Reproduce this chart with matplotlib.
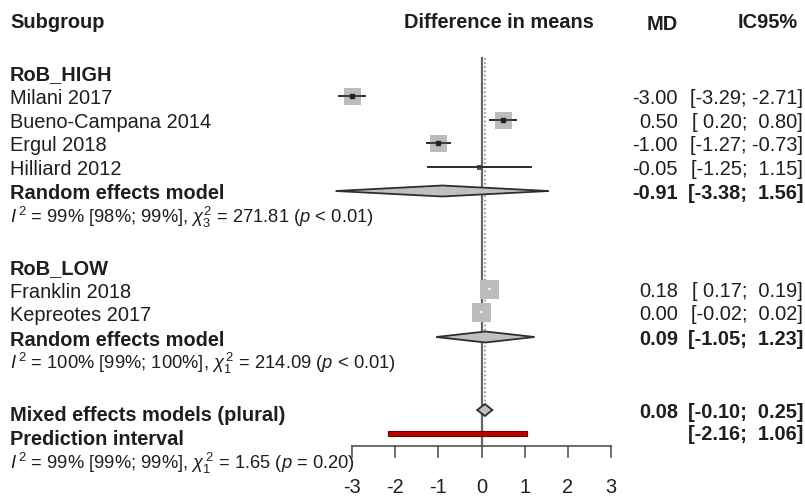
import matplotlib
matplotlib.use("Agg")

import matplotlib.pyplot as plt
from matplotlib.patches import Rectangle, Polygon

plt.rcParams["font.family"] = ["Liberation Sans", "DejaVu Sans"]
plt.rcParams["mathtext.fontset"] = "custom"
plt.rcParams["mathtext.rm"] = "Liberation Sans"
plt.rcParams["mathtext.it"] = "Liberation Sans:italic"
plt.rcParams["mathtext.bf"] = "Liberation Sans:bold"

# ---- data ----
high_studies = ["Milani 2017", "Bueno-Campana 2014", "Ergul 2018", "Hilliard 2012"]
high_md = [-3.00, 0.50, -1.00, -0.05]
high_lo = [-3.29, 0.20, -1.27, -1.25]
high_hi = [-2.71, 0.80, -0.73, 1.15]
high_pooled = (-0.91, -3.38, 1.56)
high_het = r"$I^{\,2}$ = 99% [98%; 99%], $\chi^2_3$ = 271.81 ($p$ < 0.01)"

low_studies = ["Franklin 2018", "Kepreotes 2017"]
low_md = [0.18, 0.00]
low_lo = [0.17, -0.02]
low_hi = [0.19, 0.02]
low_pooled = (0.09, -1.05, 1.23)
low_het = r"$I^{\,2}$ = 100% [99%; 100%], $\chi^{\,2}_1$ = 214.09 ($p$ < 0.01)"

overall = (0.08, -0.10, 0.25)
prediction = (-2.16, 1.06)
overall_het = r"$I^{\,2}$ = 99% [99%; 99%], $\chi^{\,2}_1$ = 1.65 ($p$ = 0.20)"

ticks = [-3, -2, -1, 0, 1, 2, 3]

# ---- layout (pixel rows) ----
high_rows = [96, 120, 143, 167]
high_box = [17, 17, 17, 5]
low_rows = [289, 312]
low_box = [19, 19]

W, H = 805, 498
px_m3, px_p3 = 352, 611
scale = (px_p3 - px_m3) / 6.0
dy = 2  # text baseline nudge


def px(p):
    return -3 + (p - px_m3) / scale


fig = plt.figure(figsize=(W / 100, H / 100), dpi=100)
ax = fig.add_axes([0, 0, 1, 1])
ax.set_xlim(px(0), px(W))
ax.set_ylim(H, 0)
ax.axis("off")

fs = 14.4
fs_het = 13.2
tc = "#1e1e1e"


def ci_text(lo, hi):
    a = "%.2f" % lo
    b = "%.2f" % hi
    a = a if lo < 0 else " " + a
    b = " " + b if hi < 0 else "  " + b
    return "[" + a + ";" + b + "]"


def label(x, y, s, bold=False, ha="left", size=fs):
    ax.text(x, y + dy, s, fontsize=size, color=tc, ha=ha, va="center",
            fontweight="bold" if bold else "normal")


def square(x, lo, hi, y, size):
    ax.plot([lo, hi], [y, y], color="#2a2a2a", lw=1.4, zorder=2)
    w = size / scale
    ax.add_patch(Rectangle((x - w / 2, y - size / 2), w, size,
                           facecolor="#bcbcbc" if size > 6 else "#555555",
                           edgecolor="none", zorder=3))
    inside = (x - lo) < w / 2
    ax.plot([max(lo, x - w / 2), min(hi, x + w / 2)], [y, y],
            color="white" if inside else "#2a2a2a", lw=1.2, zorder=4)
    if not inside and size > 6:
        ax.plot([x], [y], marker="s", ms=2.2, color="#222222", zorder=5)


def diamond(est, lo, hi, y, h, color="#c0c0c0"):
    ax.add_patch(Polygon([(lo, y), (est, y - h / 2), (hi, y), (est, y + h / 2)],
                         closed=True, facecolor=color, edgecolor="#2e2e2e",
                         lw=1.3, zorder=3))


# headers
label(px(10), 20, "Subgroup", bold=True)
label(px(499), 20, "Difference in means", bold=True, ha="center")
label(px(678), 22, "MD", bold=True, ha="right")
label(px(798), 20, "IC95%", bold=True, ha="right")

# reference lines
ax.plot([0, 0], [58, 446], color="#666666", lw=1.6, zorder=1)
ax.plot([overall[0], overall[0]], [58, 404], color="#8a8a8a", lw=1.2,
        ls=(0, (1, 1.5)), zorder=1)

x_md, x_ci = px(678), px(803)

# high risk group
label(px(10), 73, "RoB_HIGH", bold=True)
for name, m, lo, hi, y, s in zip(high_studies, high_md, high_lo, high_hi, high_rows, high_box):
    label(px(10), y, name)
    square(m, lo, hi, y, s)
    label(x_md, y, "%.2f" % m, ha="right")
    label(x_ci, y, ci_text(lo, hi), ha="right")
label(px(10), 191, "Random effects model", bold=True)
diamond(high_pooled[0], high_pooled[1], high_pooled[2], 191, 11)
label(x_md, 191, "%.2f" % high_pooled[0], bold=True, ha="right")
label(x_ci, 191, ci_text(high_pooled[1], high_pooled[2]), bold=True, ha="right")
label(px(10), 215, high_het, size=fs_het)

# low risk group
label(px(10), 267, "RoB_LOW", bold=True)
for name, m, lo, hi, y, s in zip(low_studies, low_md, low_lo, low_hi, low_rows, low_box):
    label(px(10), y + 1, name)
    square(m, lo, hi, y, s)
    label(x_md, y, "%.2f" % m, ha="right")
    label(x_ci, y, ci_text(lo, hi), ha="right")
label(px(10), 338, "Random effects model", bold=True)
diamond(low_pooled[0], low_pooled[1], low_pooled[2], 337, 11)
label(x_md, 337, "%.2f" % low_pooled[0], bold=True, ha="right")
label(x_ci, 337, ci_text(low_pooled[1], low_pooled[2]), bold=True, ha="right")
label(px(10), 361, low_het, size=fs_het)

# overall
label(px(10), 413, "Mixed effects models (plural)", bold=True)
diamond(overall[0], overall[1], overall[2], 410, 12)
label(x_md, 410, "%.2f" % overall[0], bold=True, ha="right")
label(x_ci, 410, ci_text(overall[1], overall[2]), bold=True, ha="right")

label(px(10), 437, "Prediction interval", bold=True)
ax.add_patch(Rectangle((prediction[0], 431), prediction[1] - prediction[0], 5,
                       facecolor="#c00000", edgecolor="#6b0000", lw=0.8, zorder=3))
label(x_ci, 432, ci_text(*prediction), bold=True, ha="right")
label(px(10), 461, overall_het, size=fs_het)

# x axis
ax.plot([ticks[0], ticks[-1]], [446, 446], color="#555555", lw=1.2)
for t in ticks:
    ax.plot([t, t], [446, 457], color="#555555", lw=1.2)
    ax.text(t, 487, "%d" % t, fontsize=fs, color=tc, ha="center", va="center")

fig.savefig("out.png", dpi=100)
